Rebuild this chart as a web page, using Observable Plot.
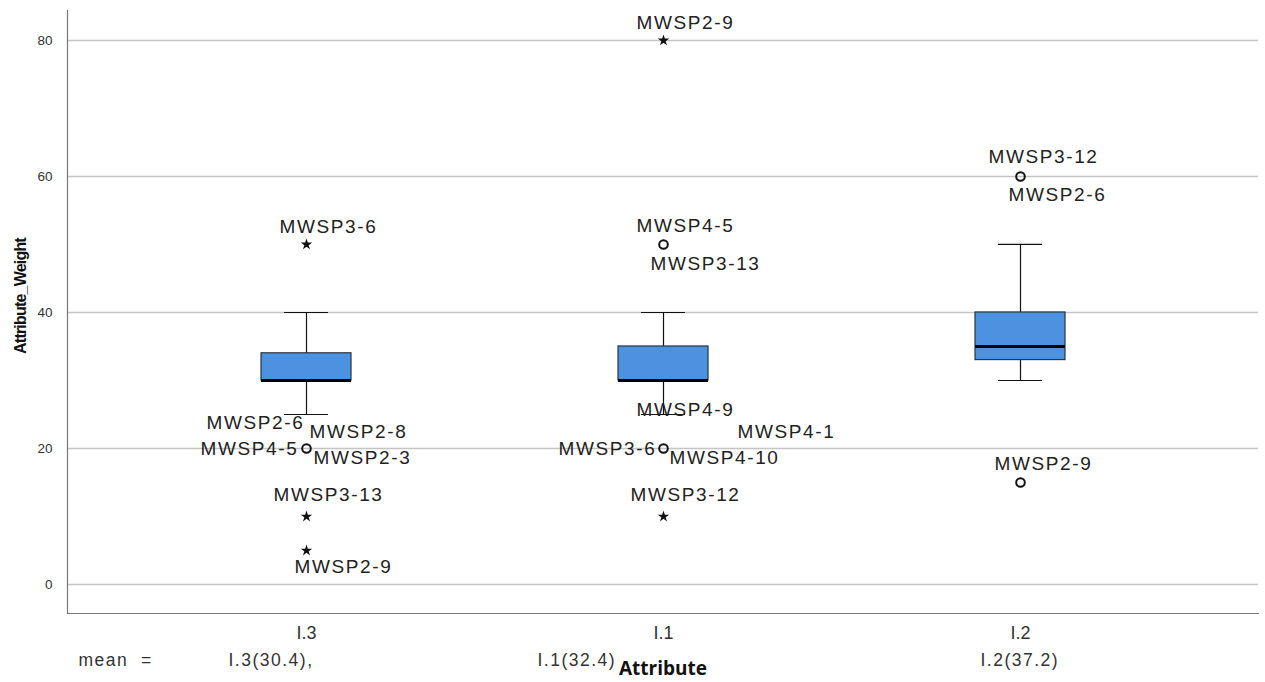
<!DOCTYPE html>
<html>
<head>
<meta charset="utf-8">
<script src="https://cdn.jsdelivr.net/npm/d3@7"></script>
<script src="https://cdn.jsdelivr.net/npm/@observablehq/plot@0.6"></script>
<style>
  body { margin: 0; background: #fff; }
  #chart svg { display: block; }
</style>
</head>
<body>
<div id="chart"></div>
<script>
// Box summaries per attribute
const attributes  = ["I.3", "I.1", "I.2"];
const q1          = [30, 30, 33];
const median      = [30, 30, 35];
const q3          = [34, 35, 40];
const whiskerLow  = [25, 25, 30];
const whiskerHigh = [40, 40, 50];
const means       = [30.4, 32.4, 37.2];

// Flagged points: "outlier" drawn as a ring, "extreme" as a star
const pointAttribute = ["I.3", "I.3", "I.3", "I.3", "I.1", "I.1", "I.1", "I.1", "I.2", "I.2"];
const pointValue     = [50, 20, 10, 5, 80, 50, 20, 10, 60, 15];
const pointKind      = ["extreme", "outlier", "extreme", "extreme", "extreme", "outlier", "outlier", "extreme", "outlier", "outlier"];

// Case identifiers attached to the flagged points
const caseAttribute = ["I.3", "I.3", "I.3", "I.3", "I.3", "I.3", "I.3",
                       "I.1", "I.1", "I.1", "I.1", "I.1", "I.1", "I.1", "I.1",
                       "I.2", "I.2", "I.2"];
const caseValue     = [50, 20, 20, 20, 20, 10, 5,
                       80, 50, 50, 20, 20, 20, 20, 10,
                       60, 60, 15];
const caseId        = ["MWSP3-6", "MWSP2-6", "MWSP2-8", "MWSP4-5", "MWSP2-3", "MWSP3-13", "MWSP2-9",
                       "MWSP2-9", "MWSP4-5", "MWSP3-13", "MWSP4-9", "MWSP4-1", "MWSP3-6", "MWSP4-10", "MWSP3-12",
                       "MWSP3-12", "MWSP2-6", "MWSP2-9"];
const yTicks = [0, 20, 40, 60, 80];

// Label placement around each point (pixel offsets, label centre)
const caseOffset = [[22, -18], [-51, -26], [52, -17], [-57, 0], [56, 9], [22, -22], [37, 16],
                    [22, -18], [22, -19], [42, 19], [22, -39], [123, -17], [-56, 0], [61, 9], [22, -22],
                    [23, -20], [37, 18], [23, -19]];
// Start offsets of the mean captions under each category
const meanOffset = [-78, -126, -40];

const boxes = attributes.map((a, i) => ({
  attribute: a, q1: q1[i], median: median[i], q3: q3[i],
  low: whiskerLow[i], high: whiskerHigh[i], mean: means[i]
}));
const points = pointAttribute.map((a, i) => ({attribute: a, value: pointValue[i], kind: pointKind[i]}));
const cases = caseId.map((id, i) => ({attribute: caseAttribute[i], value: caseValue[i], id}));

const labelFont = "Liberation Sans, Arial, sans-serif";
const boxFill = "#4d92e0";

const caseLabels = cases.map((c, i) => Plot.text([c], {
  x: "attribute", y: "value", text: "id",
  dx: caseOffset[i][0], dy: caseOffset[i][1],
  fontSize: 19, fill: "#222", fontFamily: labelFont,
  className: "case-label"
}));

const meanLabels = boxes.map((b, i) => Plot.text([b], {
  x: "attribute", frameAnchor: "bottom", lineAnchor: "middle",
  text: d => `${d.attribute}(${d.mean.toFixed(1)})` + (i === 0 ? "," : ""),
  textAnchor: "start", dx: meanOffset[i], dy: 47,
  fontSize: 17.5, fill: "#333", fontFamily: labelFont,
  className: "mean-label"
}));

const chart = Plot.plot({
  width: 1265,
  height: 682,
  marginLeft: 67,
  marginRight: 7,
  marginTop: 10,
  marginBottom: 69,
  style: {fontFamily: labelFont, background: "#fff"},
  x: {type: "band", domain: attributes, paddingInner: 0.748, paddingOuter: 0.541},
  y: {domain: [-4.26, 84.4]},
  marks: [
    Plot.gridY(yTicks, {stroke: "#c4c4c4", strokeOpacity: 1, strokeWidth: 1.5}),
    Plot.axisY(yTicks, {tickSize: 0, tickPadding: 15, fontSize: 13.5, fill: "#333", label: null}),
    Plot.axisX({tickSize: 0, tickPadding: 13, fontSize: 18, fill: "#333", label: null}),
    Plot.frame({anchor: "left", stroke: "#777", strokeWidth: 1.2}),
    Plot.frame({anchor: "bottom", stroke: "#777", strokeWidth: 1.2}),
    // whiskers and caps
    Plot.ruleX(boxes, {x: "attribute", y1: "low", y2: "high", stroke: "#111", strokeWidth: 1.2}),
    Plot.tickY(boxes, {x: "attribute", y: "low", stroke: "#111", strokeWidth: 1.2, insetLeft: 23, insetRight: 23}),
    Plot.tickY(boxes, {x: "attribute", y: "high", stroke: "#111", strokeWidth: 1.2, insetLeft: 23, insetRight: 23}),
    // interquartile boxes
    Plot.barY(boxes, {x: "attribute", y1: "q1", y2: "q3", fill: boxFill, stroke: "#2b3440", strokeWidth: 1.2}),
    Plot.tickY(boxes, {x: "attribute", y: "median", stroke: "#000", strokeWidth: 3}),
    // flagged points
    Plot.dot(points.filter(d => d.kind === "outlier"), {x: "attribute", y: "value", r: 4.3, stroke: "#111", strokeWidth: 2, fill: "none"}),
    Plot.dot(points.filter(d => d.kind === "extreme"), {x: "attribute", y: "value", symbol: "star", r: 3.6, fill: "#111", stroke: "none"}),
    ...caseLabels,
    // captions under the axis
    Plot.text(["mean\u00a0\u00a0="], {frameAnchor: "bottom-left", lineAnchor: "middle", textAnchor: "start", dx: 11, dy: 47, fontSize: 17.5, fill: "#333", fontFamily: labelFont, className: "mean-label"}),
    ...meanLabels,
    Plot.text(["Attribute"], {frameAnchor: "bottom", lineAnchor: "middle", dy: 55, fontSize: 19, fontWeight: "bold", fill: "#111", fontFamily: "Open Sans, sans-serif"}),
    Plot.text(["Attribute_Weight"], {frameAnchor: "left", textAnchor: "middle", lineAnchor: "middle", rotate: -90, dx: -47, dy: -16, fontSize: 16, fontWeight: "bold", fill: "#111", fontFamily: labelFont, className: "y-title"})
  ]
});

d3.select(chart).selectAll(".case-label text").style("letter-spacing", "1.6px");
d3.select(chart).selectAll(".mean-label text").style("letter-spacing", "1.5px");
d3.select(chart).selectAll(".y-title text").style("letter-spacing", "-0.8px");
document.getElementById("chart").appendChild(chart);
</script>
</body>
</html>
